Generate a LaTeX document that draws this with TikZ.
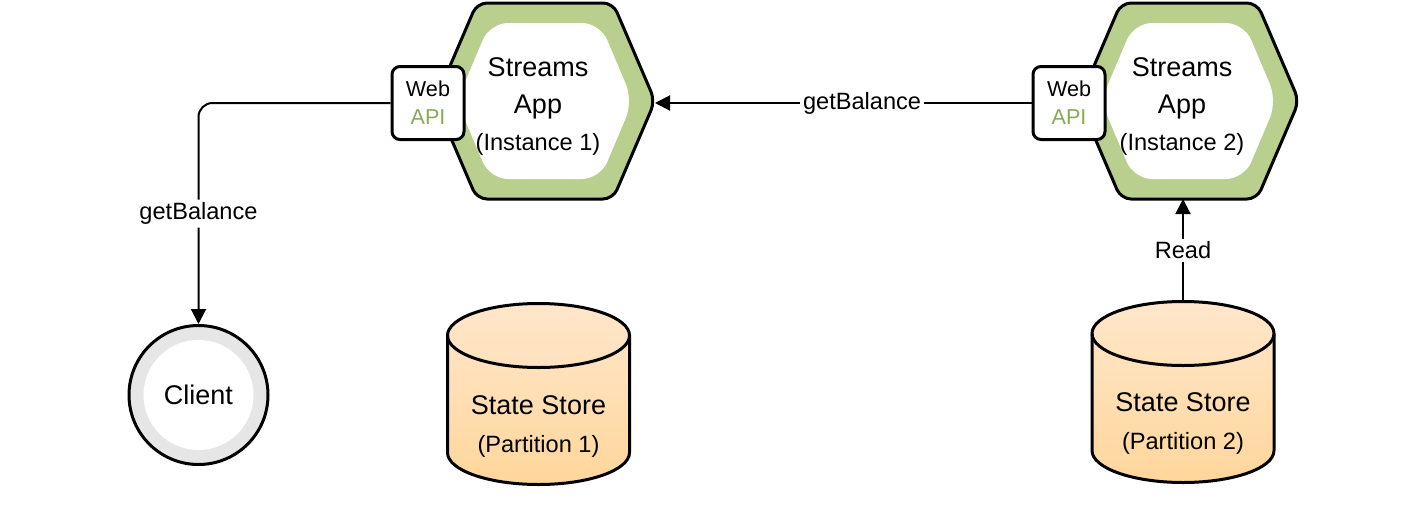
\documentclass[tikz,border=0pt]{standalone}
\usepackage{fontspec}
\setmainfont{Liberation Sans}
\usetikzlibrary{arrows.meta, calc, positioning}

\definecolor{appgreen}{RGB}{185,207,142}
\definecolor{apigreen}{RGB}{134,170,86}
\definecolor{clientgray}{RGB}{230,230,230}
\definecolor{storetop}{RGB}{255,231,204}
\definecolor{storebottom}{RGB}{255,214,155}

\tikzset{
  appnode/.style={minimum width=110pt, minimum height=98pt, inner sep=0pt, outer sep=0pt},
  appframe/.style={draw=black, line width=1.5pt, fill=appgreen, rounded corners=5pt},
  appcore/.style={fill=white, rounded corners=9pt},
  apptext/.style={align=center, font=\fontsize{13.5}{18.5}\selectfont},
  apibox/.style={draw, line width=1.5pt, fill=white, rounded corners=4pt,
    minimum width=36pt, minimum height=36.5pt, inner sep=0pt, align=center,
    font=\fontsize{10.8}{14}\selectfont},
  storenode/.style={minimum width=91pt, minimum height=90.5pt, inner sep=0pt, outer sep=0pt},
  storebody/.style={draw, line width=1.5pt, top color=storetop, bottom color=storebottom},
  storetext/.style={align=center, font=\fontsize{13.5}{19}\selectfont},
  clientnode/.style={circle, draw, line width=1.5pt, fill=clientgray, minimum size=69.5pt,
    font=\fontsize{13.5}{16}\selectfont,
    path picture={\fill[white] (path picture bounding box.center) circle[radius=27.5pt];}},
  link/.style={line width=1pt, -{Triangle[length=7.5pt, width=7.5pt]}},
  linklabel/.style={fill=white, inner sep=1.5pt, font=\fontsize{11.8}{14}\selectfont}
}

%% hexagon of a streams app, drawn round its (invisible) node
\newcommand\drawapp[1]{%
  \draw[appframe] (#1.west) -- ($(#1.north west)+(42,0)$) -- ($(#1.north east)+(-42,0)$)
    -- (#1.east) -- ($(#1.south east)+(-42,0)$) -- ($(#1.south west)+(42,0)$) -- cycle;
  \fill[appcore] ($(#1.west)+(22,0)$) -- ($(#1.north west)+(55,20)$) -- ($(#1.north east)+(-55,20)$)
    -- ($(#1.east)+(-22,0)$) -- ($(#1.south east)+(-55,-20)$) -- ($(#1.south west)+(55,-20)$) -- cycle;
}
%% cylinder of a state store
\newcommand\drawstore[1]{%
  \draw[storebody] ($(#1.north west)+(0,32)$) -- ($(#1.south west)+(0,-32)$)
    arc[start angle=180, end angle=360, x radius=45.5pt, y radius=16pt]
    -- ($(#1.north east)+(0,32)$)
    arc[start angle=0, end angle=180, x radius=45.5pt, y radius=16pt] -- cycle;
  \draw[line width=1.5pt] ($(#1.north west)+(0,32)$)
    arc[start angle=180, end angle=360, x radius=45.5pt, y radius=16pt];
}

\begin{document}
\begin{tikzpicture}[x=0.5pt, y=-0.5pt]
\useasboundingbox (0,0) rectangle (1424,504);

 %%Parameters
\def\appY{101}
\def\storeY{394}

 %% ***Streams App : Instance 1***
\node[appnode] (appA) at (545, \appY) {};
\drawapp{appA}
\node[apptext] (appAtext) at (538, 107) {Streams\\App\\{\fontsize{11.8}{18.5}\selectfont(Instance 1)}};
\node[apibox] (apiA) at (428, 103) {Web\\\textcolor{apigreen}{API}};

 %% ***Streams App : Instance 2***
\node[appnode] (appB) at (1189, \appY) {};
\drawapp{appB}
\node[apptext] (appBtext) at (1182, 107) {Streams\\App\\{\fontsize{11.8}{18.5}\selectfont(Instance 2)}};
\node[apibox] (apiB) at (1069, 103) {Web\\\textcolor{apigreen}{API}};

 %% Client
\node[clientnode] (client) at (198.5, 395) {Client};

 %% State stores
\node[storenode] (storeA) at (538.5, \storeY) {};
\drawstore{storeA}
\node[storetext] (storeAtext) at (538.5, 427) {State Store\\{\fontsize{11.8}{19}\selectfont(Partition 1)}};

\node[storenode] (storeB) at (1183, 392) {};
\drawstore{storeB}
\node[storetext] (storeBtext) at (1183, 424) {State Store\\{\fontsize{11.8}{19}\selectfont(Partition 2)}};

 %% Connectors
\draw[link] (apiB.west) -- node[linklabel, pos=0.45] (balanceB) {getBalance} (apiB.west -| appA.east);
\draw[link, rounded corners=7pt] (apiA.west) -| node[linklabel, pos=0.75] (balanceA) {getBalance} (client.north);
\draw[link] (storeB.north) -- node[linklabel] (read) {Read} (storeB.north |- appB.south);
\end{tikzpicture}
\end{document}
